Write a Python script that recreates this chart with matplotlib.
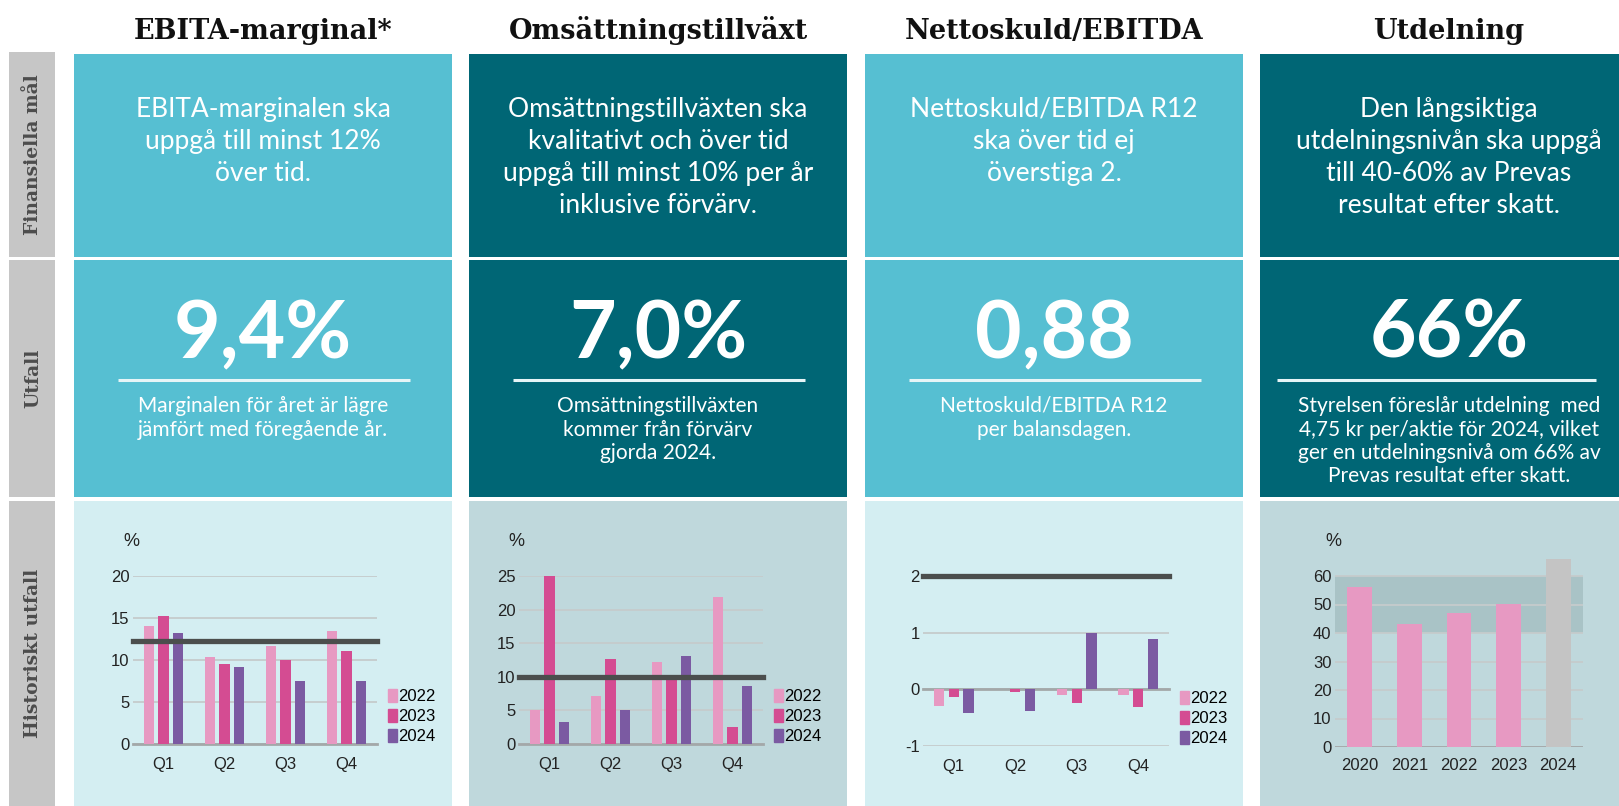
#!/usr/bin/env python3
# plot.py - Prevas financial targets infographic

import matplotlib
matplotlib.use("Agg")
import matplotlib.pyplot as plt
from matplotlib.patches import Rectangle, Patch

W, H = 1619, 806

# ---- data ----
quarters = ["Q1", "Q2", "Q3", "Q4"]
series_years = ["2022", "2023", "2024"]

ebita_2022 = [14.1, 10.4, 11.7, 13.5]
ebita_2023 = [15.2, 9.55, 10.0, 11.1]
ebita_2024 = [13.25, 9.2, 7.55, 7.55]
ebita_target = 12.3

growth_2022 = [5.1, 7.2, 12.25, 21.9]
growth_2023 = [25.2, 12.7, 10.2, 2.6]
growth_2024 = [3.3, 5.0, 13.1, 8.7]
growth_target = 10

debt_2022 = [-0.3, 0.0, -0.1, -0.1]
debt_2023 = [-0.14, -0.05, -0.25, -0.31]
debt_2024 = [-0.42, -0.38, 1.0, 0.89]
debt_target = 2

div_years = ["2020", "2021", "2022", "2023", "2024"]
div_values = [56.0, 43.1, 46.9, 50.2, 66.0]
div_band = (40, 60)

titles = ["EBITA-marginal*", "Omsättningstillväxt", "Nettoskuld/EBITDA", "Utdelning"]
goal_texts = [
    ["EBITA-marginalen ska", "uppgå till minst 12%", "över tid."],
    ["Omsättningstillväxten ska", "kvalitativt och över tid",
     "uppgå till minst 10% per år", "inklusive förvärv."],
    ["Nettoskuld/EBITDA R12", "ska över tid ej", "överstiga 2."],
    ["Den långsiktiga", "utdelningsnivån ska uppgå", "till 40-60% av Prevas",
     "resultat efter skatt."],
]
big_numbers = ["9,4%", "7,0%", "0,88", "66%"]
result_texts = [
    ["Marginalen för året är lägre", "jämfört med föregående år."],
    ["Omsättningstillväxten", "kommer från förvärv", "gjorda 2024."],
    ["Nettoskuld/EBITDA R12", "per balansdagen."],
    ["Styrelsen föreslår utdelning  med", "4,75 kr per/aktie för 2024, vilket",
     "ger en utdelningsnivå om 66% av", "Prevas resultat efter skatt."],
]
row_labels = ["Finansiella mål", "Utfall", "Historiskt utfall"]

# ---- style ----
LIGHT = "#56BFD2"
DARK = "#006675"
BG3_LIGHT = "#D4EEF2"
BG3_DARK = "#BFD8DC"
SIDE = "#C6C6C6"
C2022 = "#E799C2"
C2023 = "#D44C92"
C2024 = "#7B5AA2"
TARGET = "#4B4E4D"
GRID = "#C5CBCC"
SANS = ["Lato", "DejaVu Sans"]
NARROW = ["Liberation Sans Narrow", "Liberation Sans", "DejaVu Sans"]
SERIF = ["DejaVu Serif"]

col_x = [74, 469, 865, 1260]
col_w = 378
rows = [(54, 257), (260, 497), (501, 806)]
top_colors = [LIGHT, DARK, LIGHT, DARK]
bottom_colors = [BG3_LIGHT, BG3_DARK, BG3_LIGHT, BG3_DARK]


def fig_rect(x0, x1, ytop, ybot):
    return [x0 / W, 1 - ybot / H, (x1 - x0) / W, (ybot - ytop) / H]


def draw_layout(bg):
    # side labels
    side_rows = [(52, 257), (260, 497), (501, 806)]
    for (y0, y1), label in zip(side_rows, row_labels):
        bg.add_patch(Rectangle((9, y0), 46, y1 - y0, color=SIDE, lw=0))
        bg.text(33, (y0 + y1) / 2, label, rotation=90, ha="center", va="center",
                family=SERIF, weight="bold", fontsize=13.5, color="#4D4D4D")

    for i in range(4):
        x0 = col_x[i]
        cx = x0 + col_w / 2
        for r, (y0, y1) in enumerate(rows):
            color = bottom_colors[i] if r == 2 else top_colors[i]
            bg.add_patch(Rectangle((x0, y0), col_w, y1 - y0, color=color, lw=0))

        bg.text(cx, 39, titles[i], ha="center", va="baseline", family=SERIF,
                weight="bold", fontsize=19.5, color="#111111")

        for k, line in enumerate(goal_texts[i]):
            bg.text(cx, 117 + 32 * k, line, ha="center", va="baseline",
                    family=SANS, fontsize=19, color="white")

        bg.text(cx, 358, big_numbers[i], ha="center", va="baseline",
                family=SANS, weight="bold", fontsize=58, color="white")
        lx0 = x0 + 44 if i < 3 else x0 + 17
        bg.plot([lx0, x0 + col_w - 42], [380, 380], color="#E6F5F7", lw=2.2,
                solid_capstyle="butt")

        for k, line in enumerate(result_texts[i]):
            bg.text(cx, 412 + 23.5 * k, line, ha="center", va="baseline",
                    family=SANS, fontsize=15, color="white")


def style_axes(ax, ylim, yticks):
    ax.set_facecolor("none")
    ax.set_ylim(*ylim)
    ax.set_yticks(yticks)
    ax.set_yticklabels([f"{t:g}" for t in yticks], family=NARROW, fontsize=12,
                       color="#222222")
    for s in ax.spines.values():
        s.set_visible(False)
    ax.tick_params(length=0)
    ax.tick_params(axis="y", pad=2.5)
    ax.tick_params(axis="x", pad=9)
    ax.grid(axis="y", color=GRID, lw=1.3)
    ax.set_axisbelow(True)


def quarter_chart(ax, v22, v23, v24, target, ylim, yticks, span):
    xs = range(len(quarters))
    w = 0.165
    off = 0.24
    ax.bar([x - off for x in xs], v22, w, color=C2022, zorder=2)
    ax.bar(list(xs), v23, w, color=C2023, zorder=2)
    ax.bar([x + off for x in xs], v24, w, color=C2024, zorder=2)
    ax.set_xlim(-0.5, len(quarters) - 0.5)
    style_axes(ax, ylim, yticks)
    ax.set_xticks(list(xs))
    ax.set_xticklabels(quarters, family=NARROW, fontsize=12, color="#222222")
    ax.axhline(0, color="#A3A8A9", lw=2, zorder=1.5, clip_on=False)
    ax.axhline(target, color=TARGET, lw=3.8, zorder=3, clip_on=False)
    handles = [Patch(color=c, label=l) for c, l in zip([C2022, C2023, C2024], series_years)]
    ax.legend(handles=handles, loc="lower left", bbox_to_anchor=(1 + 10.5 / span, 0),
              frameon=False, borderaxespad=0, borderpad=0, handlelength=0.55,
              handleheight=0.8, handletextpad=0.1, labelspacing=0.28,
              prop={"family": NARROW, "size": 12})


def main():
    fig = plt.figure(figsize=(W / 100, H / 100), dpi=100)
    fig.patch.set_facecolor("white")

    bg = fig.add_axes([0, 0, 1, 1])
    bg.set_xlim(0, W)
    bg.set_ylim(H, 0)
    bg.axis("off")
    draw_layout(bg)

    ax1 = fig.add_axes(fig_rect(133, 377, 576, 744))
    quarter_chart(ax1, ebita_2022, ebita_2023, ebita_2024, ebita_target,
                  (0, 20), [0, 5, 10, 15, 20], 244)
    ax2 = fig.add_axes(fig_rect(519, 763, 576, 744))
    quarter_chart(ax2, growth_2022, growth_2023, growth_2024, growth_target,
                  (0, 25), [0, 5, 10, 15, 20, 25], 244)
    ax3 = fig.add_axes(fig_rect(923, 1169, 576, 746))
    quarter_chart(ax3, debt_2022, debt_2023, debt_2024, debt_target,
                  (-1, 2), [-1, 0, 1, 2], 246)

    ax4 = fig.add_axes(fig_rect(1335, 1583, 547.5, 747))
    xs = list(range(len(div_years)))
    colors = [C2022] * (len(div_years) - 1) + ["#C4C4C4"]
    ax4.bar(xs, div_values, 0.5, color=colors, zorder=2)
    ax4.set_xlim(-0.5, len(div_years) - 0.5)
    style_axes(ax4, (0, 70), [0, 10, 20, 30, 40, 50, 60])
    ax4.axhspan(*div_band, color="#A9C3C6", lw=0, zorder=0.2)
    ax4.axhline(0, color="#A3A8A9", lw=2, zorder=1.5)
    ax4.set_xticks(xs)
    ax4.set_xticklabels(div_years, family=NARROW, fontsize=12, color="#222222")
    ax4.tick_params(axis="x", pad=8)

    for x in (123, 508, 1325):
        bg.text(x, 542, "%", ha="left", va="center", family=NARROW,
                fontsize=13, color="#222222")

    fig.savefig("out.png", dpi=100)


if __name__ == "__main__":
    main()
